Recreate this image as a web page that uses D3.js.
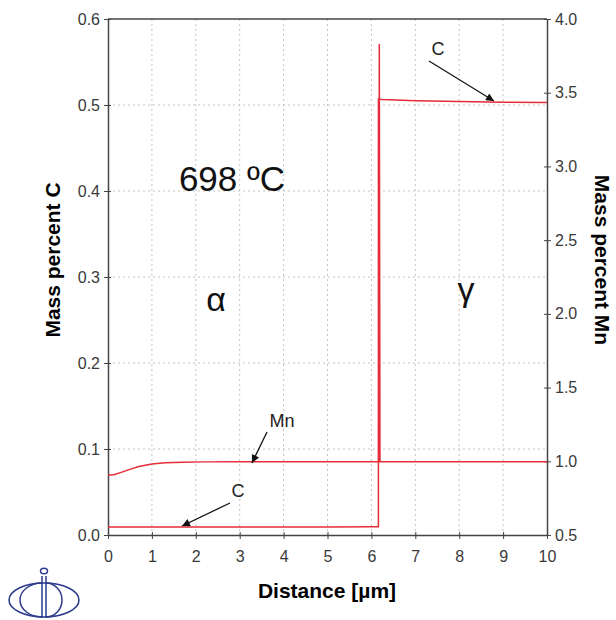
<!DOCTYPE html>
<html><head><meta charset="utf-8">
<script src="https://cdn.jsdelivr.net/npm/d3@7"></script>
<style>
body{margin:0;background:#fff;}
svg{display:block;font-family:"Liberation Sans",Arial,sans-serif;}
</style></head>
<body>
<svg id="chart" width="616" height="620"></svg>
<script>
// ---- data ----
const xTicks = [0,1,2,3,4,5,6,7,8,9,10];
const cTicks = [0.0,0.1,0.2,0.3,0.4,0.5,0.6];
const mnTicks = [0.5,1.0,1.5,2.0,2.5,3.0,3.5,4.0];
// Carbon profile (mass percent C) vs distance (µm)
const cDist = [0, 1, 2, 3, 4, 5, 6, 6.16, 6.16, 6.25, 7, 8, 9, 10];
const cVal  = [0.0093, 0.0093, 0.0093, 0.0094, 0.0094, 0.0094, 0.0095, 0.0095, 0.507, 0.5065, 0.505, 0.504, 0.5033, 0.503];
// Manganese profile (mass percent Mn) vs distance (µm)
const mnDist = [0, 0.15, 0.3, 0.5, 0.7, 1.0, 1.3, 1.7, 2.2, 3, 4, 5, 6, 6.165, 6.18, 6.195, 7, 8, 9, 10];
const mnVal  = [0.905, 0.91, 0.925, 0.945, 0.965, 0.982, 0.99, 0.994, 0.996, 0.997, 0.997, 0.997, 0.997, 0.997, 3.83, 0.997, 0.997, 0.997, 0.997, 0.997];

const svg = d3.select("#chart");
const L = 108, R = 547, T = 19, B = 535;
const x = d3.scaleLinear().domain([0,10]).range([L,R]);
const yC = d3.scaleLinear().domain([0,0.6]).range([B,T]);
const yMn = d3.scaleLinear().domain([0.5,4.0]).range([B,T]);

const red = "#e52d3a", axisCol = "#444", labCol = "#3a3a3a";

// gridlines
const grid = svg.append("g").attr("stroke","#c4c4c4").attr("stroke-width",1).attr("stroke-dasharray","2,3");
xTicks.slice(1,-1).forEach(t=>grid.append("line").attr("x1",x(t)).attr("x2",x(t)).attr("y1",T).attr("y2",B));
cTicks.slice(1,-1).forEach(t=>grid.append("line").attr("x1",L).attr("x2",R).attr("y1",yC(t)).attr("y2",yC(t)));

// axes
function styleAxis(g){
  g.select(".domain").attr("stroke",axisCol).attr("stroke-width",1.5);
  g.selectAll(".tick line").attr("stroke",axisCol);
  g.selectAll(".tick text").attr("fill",labCol).style("font-size","16px").style("font-family","'Liberation Sans',Arial,sans-serif");
}
const xAxis = svg.append("g").attr("transform",`translate(0,${B})`)
  .call(d3.axisBottom(x).tickValues(xTicks).tickFormat(d3.format("d")).tickSizeOuter(0).tickSizeInner(4).tickPadding(12));
styleAxis(xAxis);
xAxis.selectAll(".tick line").attr("y1",-3);

const yAxisL = svg.append("g").attr("transform",`translate(${L},0)`)
  .call(d3.axisLeft(yC).tickValues(cTicks).tickFormat(d3.format(".1f")).tickSizeOuter(0).tickSizeInner(4).tickPadding(4));
styleAxis(yAxisL);
yAxisL.selectAll(".tick line").attr("x1",3);

const yAxisR = svg.append("g").attr("transform",`translate(${R},0)`)
  .call(d3.axisRight(yMn).tickValues(mnTicks).tickFormat(d3.format(".1f")).tickSizeOuter(0).tickSizeInner(4).tickPadding(4));
styleAxis(yAxisR);
yAxisR.selectAll(".tick line").attr("x1",-3);

// top border
svg.append("line").attr("x1",L).attr("x2",R).attr("y1",T).attr("y2",T).attr("stroke",axisCol).attr("stroke-width",1.5);

// curves
const lineC = d3.line().x((d,i)=>x(cDist[i])).y((d,i)=>yC(cVal[i]));
const lineMn = d3.line().x((d,i)=>x(mnDist[i])).y((d,i)=>yMn(mnVal[i]));
svg.append("path").attr("d",lineMn(mnDist)).attr("fill","none").attr("stroke",red).attr("stroke-width",1.5);
svg.append("path").attr("d",lineC(cDist)).attr("fill","none").attr("stroke",red).attr("stroke-width",1.5);

// annotations
const defs = svg.append("defs");
defs.append("marker").attr("id","arr").attr("viewBox","0 0 10 10").attr("refX",10).attr("refY",5)
  .attr("markerWidth",11).attr("markerHeight",8).attr("markerUnits","userSpaceOnUse").attr("orient","auto")
  .append("path").attr("d","M0,0L10,5L0,10Z").attr("fill","#111");
const ann = [
  {t:"C", tx:438, ty:55, x1:429, y1:61, x2:494, y2:101},
  {t:"Mn", tx:282, ty:427, x1:267, y1:432, x2:252, y2:463},
  {t:"C", tx:238, ty:497, x1:230, y1:503, x2:182, y2:526}
];
ann.forEach(a=>{
  svg.append("line").attr("x1",a.x1).attr("y1",a.y1).attr("x2",a.x2).attr("y2",a.y2)
    .attr("stroke","#111").attr("stroke-width",1.3).attr("marker-end","url(#arr)");
  svg.append("text").attr("x",a.tx).attr("y",a.ty).attr("text-anchor","middle")
    .style("font-size","18px").attr("fill","#222").text(a.t);
});

// in-plot labels
svg.append("text").attr("x",232).attr("y",191).attr("text-anchor","middle").style("font-size","35px").attr("fill","#111").text("698 ºC");
svg.append("text").attr("x",216).attr("y",311).attr("text-anchor","middle").style("font-size","34px").attr("fill","#111").text("α");
svg.append("text").attr("x",466).attr("y",301).attr("text-anchor","middle").style("font-size","34px").attr("fill","#111").text("γ");

// axis titles
svg.append("text").attr("x",327).attr("y",598).attr("text-anchor","middle").style("font-size","21px").style("font-weight","bold").attr("fill","#000").text("Distance [µm]");
svg.append("text").attr("transform","translate(60,260) rotate(-90)").attr("text-anchor","middle").style("font-size","21px").style("font-weight","bold").attr("fill","#000").text("Mass percent C");
svg.append("text").attr("transform","translate(595,260) rotate(90)").attr("text-anchor","middle").style("font-size","21px").style("font-weight","bold").attr("fill","#000").text("Mass percent Mn");

// logo
const logo = svg.append("g").attr("fill","none").attr("stroke","#2e3a8c").attr("stroke-width",1.5);
logo.append("ellipse").attr("cx",44).attr("cy",600).attr("rx",35).attr("ry",17);
logo.append("path").attr("d","M42,583 A22,17 0 0 0 42,617");
logo.append("path").attr("d","M46,583 A16,17 0 0 1 46,617");
logo.append("line").attr("x1",42).attr("x2",42).attr("y1",576).attr("y2",618);
logo.append("line").attr("x1",46).attr("x2",46).attr("y1",576).attr("y2",618);
logo.append("ellipse").attr("cx",44).attr("cy",571).attr("rx",3.5).attr("ry",2.8);
</script>
</body></html>
